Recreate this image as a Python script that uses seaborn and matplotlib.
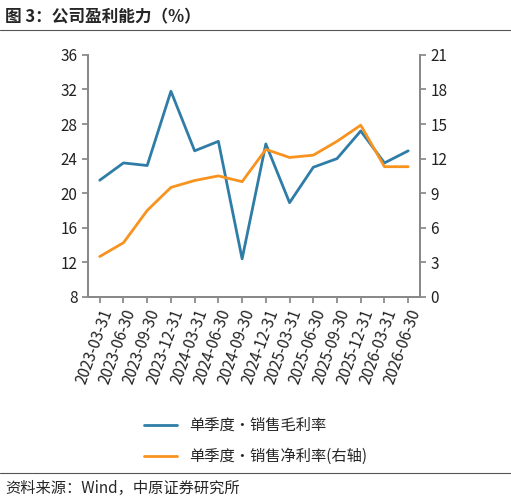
import matplotlib
matplotlib.use("Agg")
import matplotlib.pyplot as plt
import seaborn as sns
import pandas as pd

dates = ["2023-03-31", "2023-06-30", "2023-09-30", "2023-12-31", "2024-03-31",
         "2024-06-30", "2024-09-30", "2024-12-31", "2025-03-31", "2025-06-30",
         "2025-09-30", "2025-12-31", "2026-03-31", "2026-06-30"]
gross = [21.5, 23.5, 23.2, 31.8, 24.9, 26.0, 12.4, 25.7, 18.9, 23.0, 24.0, 27.2, 23.5, 24.9]
net = [3.5, 4.7, 7.5, 9.5, 10.1, 10.5, 10.0, 12.8, 12.1, 12.3, 13.5, 14.9, 11.3, 11.3]

df = pd.DataFrame({"date": dates, "gross": gross, "net": net, "i": range(len(dates))})

sns.set_theme(style="white")
plt.rcParams["font.family"] = ["Noto Sans CJK SC", "DejaVu Sans"]

fig = plt.figure(figsize=(5.11, 5.04), dpi=100)
ax = fig.add_axes([0.172, 0.411, 0.65, 0.48])
ax2 = ax.twinx()

blue = "#2F7DA6"
orange = "#F7931E"
sns.lineplot(data=df, x="i", y="gross", ax=ax, color=blue, lw=2, label="单季度·销售毛利率", legend=False)
sns.lineplot(data=df, x="i", y="net", ax=ax2, color=orange, lw=2, label="单季度·销售净利率(右轴)", legend=False)

ax.set_ylim(8, 36)
ax.set_yticks(range(8, 37, 4))
ax2.set_ylim(0, 21)
ax2.set_yticks(range(0, 22, 3))
ax.set_xlim(-0.5, len(dates) - 0.5)
ax.set_xticks(range(len(dates)))
ax.set_xticklabels(dates, rotation=70, ha="right", rotation_mode="anchor")
ax.set_xlabel("")
ax.set_ylabel("")
ax2.set_ylabel("")
for a in (ax, ax2):
    for s in a.spines.values():
        s.set_color("#888888")
    a.spines["top"].set_visible(False)
    a.tick_params(labelsize=11, colors="#222222", length=4, direction="out",
                  left=(a is ax), right=(a is ax2), bottom=(a is ax))
    a.tick_params(axis="both", color="#888888")

h1, l1 = ax.get_legend_handles_labels()
h2, l2 = ax2.get_legend_handles_labels()
fig.legend(h1 + h2, l1 + l2, loc="center", bbox_to_anchor=(0.5, 0.125),
           frameon=False, fontsize=11, handlelength=2.2, labelspacing=0.9)

fig.text(0.01, 0.965, "图 3：公司盈利能力（%）", fontsize=12, fontweight="bold", va="center")
fig.add_artist(plt.Line2D([0, 1], [0.94, 0.94], color="#555555", lw=0.8))
fig.add_artist(plt.Line2D([0, 1], [0.062, 0.062], color="#555555", lw=0.8))
fig.text(0.01, 0.03, "资料来源：Wind，中原证券研究所", fontsize=11, va="center")

fig.savefig("out.png", dpi=100)
